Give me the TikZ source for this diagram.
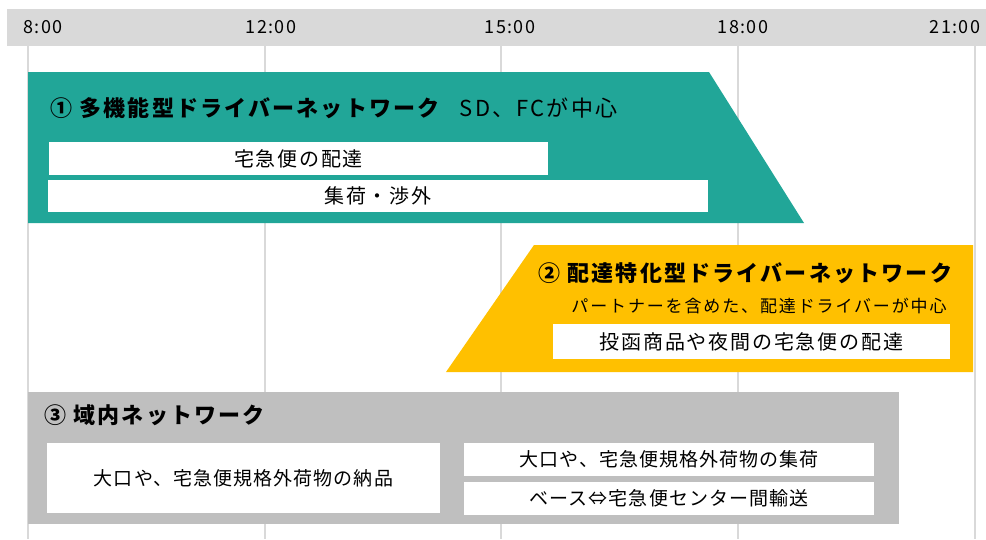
\documentclass[tikz,border=0pt]{standalone}
\usepackage{fontspec}
\setmainfont{Noto Sans CJK JP}
\newfontfamily\fonteHora[LetterSpace=8]{Noto Sans CJK JP}
\newfontfamily\fonteTitulo[LetterSpace=10]{Noto Sans CJK JP}
\newfontfamily\fonteSub[LetterSpace=11]{Noto Sans CJK JP}
\newfontfamily\fonteCaixa[LetterSpace=9]{Noto Sans CJK JP}
\newfontfamily\fonteRede[LetterSpace=5.5]{Noto Sans CJK JP}
\definecolor{verde}{RGB}{33,166,152}
\definecolor{amarelo}{RGB}{255,192,0}
\definecolor{cinza}{RGB}{191,191,191}
\definecolor{grade}{RGB}{217,217,217}

\begin{document}
\begin{tikzpicture}[x=1pt,y=-1pt,
  hora/.style={font=\fonteHora\fontsize{18}{20}\selectfont},
  titulo/.style={anchor=west,inner sep=0pt,font=\fonteTitulo\fontsize{22}{24}\selectfont\bfseries},
  caixa/.style={fill=white,inner sep=0pt,font=\fonteCaixa\fontsize{20}{22}\selectfont},
  caixa3/.style={caixa,font=\fonteRede\fontsize{19}{21}\selectfont}]
\useasboundingbox (0,0) rectangle (986,539);

% cabeçalho
\fill[grade] (7,9) rectangle (986,46);
\foreach \x in {28, 265, 501, 738, 975} {
  \draw[grade,line width=2pt] (\x,46) -- (\x,539);
}
\node[hora] (h8) at (43,27) {8:00};
\node[hora] (h12) at (271,27) {12:00};
\node[hora] (h15) at (510,27) {15:00};
\node[hora] (h18) at (743,27) {18:00};
\node[hora] (h21) at (955,27) {21:00};

% rede 1
\fill[verde] (28,72) -- (709,72) -- (804,223) -- (28,223) -- cycle;
\node[titulo] (rede1) at (50,108) {① 多機能型ドライバーネットワーク\hspace{20pt}\mdseries SD、FCが中心};
\node[caixa,minimum width=499pt,minimum height=33pt] (entrega1) at (298.5,158.5) {宅急便の配達};
\node[caixa,minimum width=660pt,minimum height=32pt] (coleta1) at (378,196) {集荷・渉外};

% rede 2
\fill[amarelo] (446,372) -- (534,245) -- (973,245) -- (973,372) -- cycle;
\node[titulo] (rede2) at (538,273) {② 配達特化型ドライバーネットワーク};
\node[font=\fonteSub\fontsize{17}{19}\selectfont] (sub2) at (759,306) {パートナーを含めた、配達ドライバーが中心};
\node[caixa,minimum width=397pt,minimum height=35pt] (entrega2) at (751.5,341.5) {投函商品や夜間の宅急便の配達};

% rede 3
\fill[cinza] (28,392) rectangle (899,524);
\node[titulo] (rede3) at (44,415) {③ 域内ネットワーク};
\node[caixa3,minimum width=393pt,minimum height=70pt] (nohin) at (243.5,478) {大口や、宅急便規格外荷物の納品};
\node[caixa3,minimum width=410pt,minimum height=33pt] (shuka) at (669,459.5) {大口や、宅急便規格外荷物の集荷};
\node[caixa3,minimum width=410pt,minimum height=33pt] (yuso) at (669,498.5) {ベース⇔宅急便センター間輸送};

\end{tikzpicture}
\end{document}
